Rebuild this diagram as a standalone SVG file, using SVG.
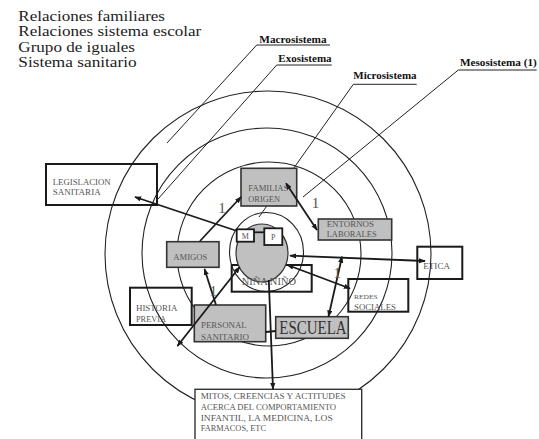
<svg xmlns="http://www.w3.org/2000/svg" width="539" height="439" viewBox="0 0 539 439">
<style>
.ring{fill:none;stroke:#222;stroke-width:1.1}
.lead{fill:none;stroke:#222;stroke-width:1}
.wbox{fill:none;stroke:#1a1a1a;stroke-width:2}
.gbox{fill:#c0c0c0;stroke:#333;stroke-width:1.6}
.t{font-family:"Liberation Serif",serif;fill:#555;font-size:9px}
.h{font-family:"Liberation Serif",serif;fill:#222;font-size:14px}
.lab{font-family:"Liberation Serif",serif;font-weight:bold;fill:#111;font-size:10px}
.one{font-family:"Liberation Serif",serif;fill:#555;font-size:15px}
.con{fill:none;stroke:#1a1a1a;stroke-width:1.8}
</style>
<defs>
<marker id="ah" viewBox="0 0 8 6" refX="7" refY="3" markerWidth="7" markerHeight="5.5" markerUnits="userSpaceOnUse" orient="auto-start-reverse">
<path d="M0,0 L8,3 L0,6 z" fill="#1a1a1a"/>
</marker>
</defs>
<rect width="539" height="439" fill="#fff"/>
<g id="legend">
<text class="h" x="18.3" y="20.5" textLength="146.7" lengthAdjust="spacingAndGlyphs">Relaciones familiares</text>
<text class="h" x="18.3" y="36" textLength="183" lengthAdjust="spacingAndGlyphs">Relaciones sistema escolar</text>
<text class="h" x="18.3" y="51.5" textLength="116.7" lengthAdjust="spacingAndGlyphs">Grupo de iguales</text>
<text class="h" x="18.3" y="67" textLength="118.4" lengthAdjust="spacingAndGlyphs">Sistema sanitario</text>
</g>
<g id="rings">
<circle class="ring" cx="268" cy="254" r="163"/>
<circle class="ring" cx="267" cy="253" r="125"/>
<circle class="ring" cx="269" cy="254" r="92"/>
<ellipse class="ring" cx="266.5" cy="252" rx="37" ry="39.5"/>
</g>
<g id="leaders">
<g id="macrosistema">
<polyline class="lead" points="330,45 256.7,45 167,143"/>
<text class="lab" x="259.3" y="42.5" textLength="67.3" lengthAdjust="spacingAndGlyphs">Macrosistema</text>
</g>
<g id="exosistema">
<polyline class="lead" points="331.7,65 276.7,65 158,199"/>
<text class="lab" x="278.3" y="62" textLength="53.3" lengthAdjust="spacingAndGlyphs">Exosistema</text>
</g>
<g id="microsistema">
<polyline class="lead" points="416.7,84.3 353.3,84.3 259,217"/>
<text class="lab" x="353.3" y="79" textLength="63.3" lengthAdjust="spacingAndGlyphs">Microsistema</text>
</g>
<g id="mesosistema">
<polyline class="lead" points="536.7,70 458.3,70 303,197"/>
<text class="lab" x="460" y="66" textLength="76.7" lengthAdjust="spacingAndGlyphs">Mesosistema (1)</text>
</g>
</g>
<g id="legislacion">
<rect class="wbox" x="46" y="164" width="111" height="41"/>
<text class="t" x="52.7" y="184.5" textLength="58" lengthAdjust="spacingAndGlyphs">LEGISLACION</text>
<text class="t" x="52.7" y="194.5" textLength="48" lengthAdjust="spacingAndGlyphs">SANITARIA</text>
</g>
<g id="familias">
<rect class="gbox" x="241" y="168.3" width="55.7" height="37.7"/>
<text class="t" x="248.3" y="190.7" textLength="40" lengthAdjust="spacingAndGlyphs">FAMILIAS</text>
<text class="t" x="248.3" y="201.7" textLength="31.7" lengthAdjust="spacingAndGlyphs">ORIGEN</text>
</g>
<g id="entornos">
<rect class="gbox" x="318.3" y="219" width="73.4" height="21"/>
<text class="t" x="326.7" y="227.3" textLength="47.3" lengthAdjust="spacingAndGlyphs">ENTORNOS</text>
<text class="t" x="326.7" y="237.3" textLength="50" lengthAdjust="spacingAndGlyphs">LABORALES</text>
</g>
<g id="amigos">
<rect class="gbox" x="166.7" y="241.7" width="52.3" height="25.6"/>
<text class="t" x="173.3" y="260" textLength="34" lengthAdjust="spacingAndGlyphs">AMIGOS</text>
</g>
<g id="etica">
<rect class="wbox" x="417.3" y="246.7" width="45" height="32.3"/>
<text class="t" x="423.3" y="268.7" textLength="26.7" lengthAdjust="spacingAndGlyphs">ETICA</text>
</g>
<g id="nino">
<rect class="wbox" x="231.7" y="265" width="80" height="26.7"/>
<ellipse cx="262" cy="253" rx="26" ry="29" fill="#c0c0c0" stroke="#333" stroke-width="1.2"/>
<text class="t" x="241.7" y="284.5" style="font-size:11px" textLength="54.3" lengthAdjust="spacingAndGlyphs">NIÑA NIÑO</text>
</g>
<g id="m">
<line x1="254" y1="232.3" x2="264.3" y2="232.3" stroke="#1a1a1a" stroke-width="1.8"/>
<rect x="236.7" y="229.3" width="17.3" height="12.4" fill="#fff" stroke="#1a1a1a" stroke-width="1.8"/>
<text class="t" x="245.3" y="239" style="font-size:8px" text-anchor="middle">M</text>
</g>
<g id="p">
<rect x="264.3" y="228.3" width="18" height="16.7" fill="#fff" stroke="#1a1a1a" stroke-width="1.8"/>
<text class="t" x="273.3" y="239.5" style="font-size:8px" text-anchor="middle">P</text>
</g>
<g id="historia">
<rect class="wbox" x="130" y="287.7" width="61.7" height="37.3"/>
<text class="t" x="136" y="311" textLength="41.3" lengthAdjust="spacingAndGlyphs">HISTORIA</text>
<text class="t" x="136" y="321.7" textLength="30" lengthAdjust="spacingAndGlyphs">PREVIA</text>
</g>
<g id="redes">
<rect class="wbox" x="348.3" y="279" width="60" height="32.7"/>
<text class="t" x="354" y="299.3" style="font-size:7px" textLength="23.7" lengthAdjust="spacingAndGlyphs">REDES</text>
<text class="t" x="354" y="310" textLength="42" lengthAdjust="spacingAndGlyphs">SOCIALES</text>
</g>
<g id="personal">
<rect class="gbox" x="194.3" y="305" width="71.4" height="36.7"/>
<text class="t" x="201" y="328.3" textLength="45.7" lengthAdjust="spacingAndGlyphs">PERSONAL</text>
<text class="t" x="201" y="340" textLength="48" lengthAdjust="spacingAndGlyphs">SANITARIO</text>
</g>
<g id="escuela">
<rect class="gbox" x="275.7" y="316.7" width="72.6" height="21.6"/>
<text class="t" x="279.3" y="334.2" style="font-size:18.5px;fill:#333" textLength="67.3" lengthAdjust="spacingAndGlyphs">ESCUELA</text>
</g>
<g id="mitos">
<rect x="195" y="389.3" width="166.7" height="60" fill="#fff" stroke="#333" stroke-width="1.4"/>
<text class="t" x="200.7" y="399" textLength="145" lengthAdjust="spacingAndGlyphs">MITOS, CREENCIAS Y ACTITUDES</text>
<text class="t" x="200.7" y="409.7" textLength="135.3" lengthAdjust="spacingAndGlyphs">ACERCA DEL COMPORTAMIENTO</text>
<text class="t" x="200.7" y="420.7" textLength="132" lengthAdjust="spacingAndGlyphs">INFANTIL, LA MEDICINA, LOS</text>
<text class="t" x="200.7" y="431.3" textLength="65.3" lengthAdjust="spacingAndGlyphs">FARMACOS, ETC</text>
</g>
<g id="connectors">
<line class="con" x1="237" y1="231" x2="135" y2="197" marker-end="url(#ah)"/>
<line class="con" x1="200" y1="241" x2="241" y2="197" marker-end="url(#ah)"/>
<line class="con" x1="286" y1="183.3" x2="317" y2="230" marker-start="url(#ah)" marker-end="url(#ah)"/>
<line class="con" x1="290" y1="255.7" x2="425" y2="261" stroke-width="1.5" marker-start="url(#ah)" marker-end="url(#ah)"/>
<line class="con" x1="342" y1="256.7" x2="328.5" y2="316.5" marker-start="url(#ah)" marker-end="url(#ah)"/>
<line class="con" x1="287.5" y1="265" x2="350" y2="288.5" stroke-width="1.5" marker-start="url(#ah)" marker-end="url(#ah)"/>
<line class="con" x1="239.7" y1="267" x2="177.4" y2="346" marker-start="url(#ah)" marker-end="url(#ah)"/>
<line class="con" x1="216" y1="305" x2="204.5" y2="269" marker-end="url(#ah)"/>
<line class="con" x1="268.8" y1="280" x2="273" y2="389" stroke-width="1.5" marker-end="url(#ah)"/>
<line class="con" x1="265.7" y1="332" x2="275.7" y2="331" stroke-width="1.5"/>
</g>
<g id="labels1">
<text class="one" x="218.3" y="213.3">1</text>
<text class="one" x="311.7" y="208.3">1</text>
<text class="one" x="333.5" y="277.5">1</text>
<text class="one" x="209.5" y="296">1</text>
</g>
</svg>
